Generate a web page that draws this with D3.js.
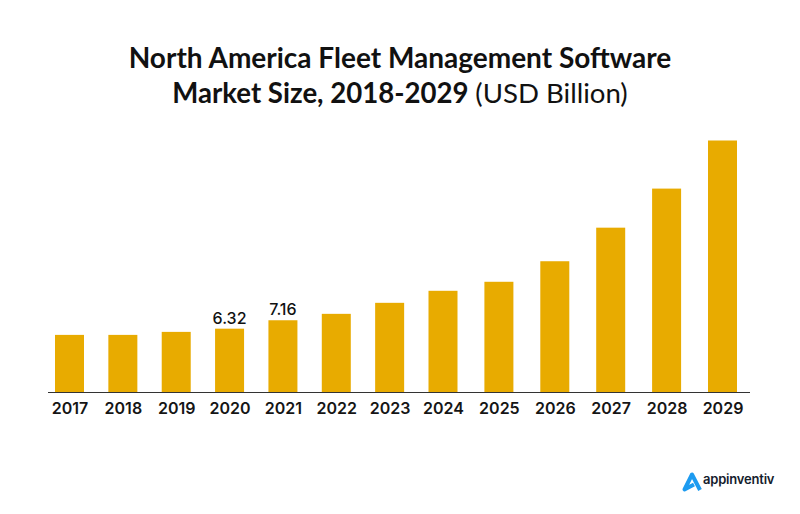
<!DOCTYPE html>
<html>
<head>
<meta charset="utf-8">
<script src="https://cdn.jsdelivr.net/npm/d3@7"></script>
<style>
  html, body { margin: 0; background: #fff; }
  text { font-family: Lato, sans-serif; fill: #111; }
  .title { font-size: 28px; font-weight: 700; text-anchor: middle; }
  .title .second { font-size: 27.6px; }
  .title .light { font-weight: 400; }
  .xAxis text { font-family: Inter, sans-serif; font-size: 16px; font-weight: 600; fill: #151515; }
  .value { font-family: Inter, sans-serif; font-size: 16px; font-weight: 500; text-anchor: middle; }
</style>
</head>
<body>
<div class="dataviz"></div>
<script>
const years = [2017, 2018, 2019, 2020, 2021, 2022, 2023, 2024, 2025, 2026, 2027, 2028, 2029]
const sizes = [5.7, 5.7, 6.0, 6.32, 7.16, 7.8, 8.9, 10.1, 11.0, 13.05, 16.4, 20.3, 25.1]
const valueLabels = { 2020: '6.32', 2021: '7.16' }

const width = 800
const height = 514
const barWidth = 29
const baseline = 392

const svg = d3.select('.dataviz').append('svg')
  .attr('width', width)
  .attr('height', height)
  .style('display', 'block')

// title
const title = svg.append('text').attr('class', 'title')
title.append('tspan').attr('x', 400).attr('y', 68).text('North America Fleet Management Software')
const line2 = title.append('tspan').attr('class', 'second').attr('x', 400).attr('y', 103)
line2.append('tspan').text('Market Size, 2018-2029 ')
line2.append('tspan').attr('class', 'light').text('(USD Billion)')

// scales - the bars in the picture get a little wider apart after 2024
const xScale = d3.scaleLinear()
  .domain([2017, 2024, 2029])
  .range([69.5, 443, 722.5])

const yScale = d3.scaleLinear()
  .domain([0, 25.1])
  .range([baseline, 140.5])

// bars
svg.selectAll('rect.bar')
  .data(years)
  .enter()
  .append('rect')
  .attr('class', 'bar')
  .attr('x', d => xScale(d) - barWidth / 2)
  .attr('width', barWidth)
  .attr('y', (d, i) => yScale(sizes[i]))
  .attr('height', (d, i) => baseline - yScale(sizes[i]))
  .attr('fill', '#e8ab00')

// value labels
svg.selectAll('text.value')
  .data(years.filter(d => valueLabels[d]))
  .enter()
  .append('text')
  .attr('class', 'value')
  .attr('x', d => xScale(d))
  .attr('y', d => yScale(sizes[years.indexOf(d)]) - 5)
  .text(d => valueLabels[d])

// axis
const xAxis = svg.append('g')
  .attr('class', 'xAxis')
  .attr('transform', `translate(0, ${baseline})`)
  .call(d3.axisBottom(xScale).tickValues(years).tickFormat(d3.format('d')).tickSize(0).tickPadding(11))

xAxis.select('.domain').remove()
xAxis.append('line')
  .attr('x1', 48).attr('x2', 750)
  .attr('y1', 0.5).attr('y2', 0.5)
  .attr('stroke', '#333').attr('stroke-width', 1.2)

// logo
svg.append('path')
  .attr('d', 'M700 490 L692 474.5 L684.5 489.5 L694 484.5')
  .attr('fill', 'none')
  .attr('stroke', '#1d9bf0')
  .attr('stroke-width', 4)
  .attr('stroke-linejoin', 'round')
svg.append('text')
  .attr('x', 703).attr('y', 484)
  .attr('font-size', 13).attr('font-weight', 600)
  .style('font-family', 'Inter, sans-serif').style('fill', '#14202c')
  .style('letter-spacing', '-0.2px')
  .text('appinventiv')
</script>
</body>
</html>
